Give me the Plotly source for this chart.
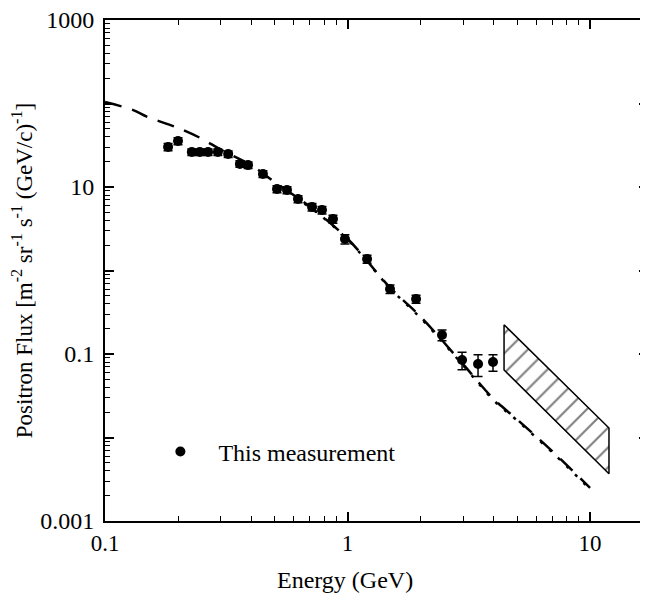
import plotly.graph_objects as go

# Measured positron flux
energy = [0.182, 0.200, 0.228, 0.246, 0.266, 0.292, 0.322, 0.360, 0.389, 0.448,
          0.512, 0.563, 0.625, 0.714, 0.785, 0.871, 0.976, 1.204, 1.497, 1.917,
          2.453, 2.967, 3.453, 3.98]
flux = [30.1, 35.5, 26.2, 26.2, 26.2, 26.2, 24.8, 18.9, 18.3, 14.3,
        9.46, 9.2, 7.18, 5.76, 5.3, 4.14, 2.38, 1.37, 0.60, 0.456,
        0.169, 0.0848, 0.0759, 0.0802]
flux_err = [3.0, 3.5, 2.3, 2.3, 2.3, 2.3, 2.2, 1.7, 1.6, 1.3,
            0.9, 0.9, 0.7, 0.6, 0.55, 0.45, 0.3, 0.15, 0.07, 0.05,
            0.025, 0.02, 0.022, 0.018]

# Model curve (long dash)
model_a_e = [0.1, 0.13, 0.15, 0.2, 0.25, 0.3, 0.4, 0.5, 0.7, 1.0, 1.5, 2.0,
             3.0, 4.0, 5.0, 7.0, 10.0]
model_a_f = [104, 84, 69, 51, 38, 28, 18.3, 11.5, 5.8, 2.4, 0.62, 0.28,
             0.075, 0.029, 0.0165, 0.0068, 0.0025]
# Second model curve (dotted)
model_b_e = [0.6, 0.7, 1.0, 1.5, 2.0, 3.0, 4.0, 5.0, 7.0, 10.0]
model_b_f = [7.4, 5.7, 2.35, 0.61, 0.27, 0.073, 0.028, 0.016, 0.0066, 0.0024]

# Hatched band (high-energy region)
band_e = [4.42, 11.97, 11.97, 4.42, 4.42]
band_f = [0.224, 0.013, 0.00368, 0.0643, 0.224]

fig = go.Figure()

fig.add_trace(go.Scatter(
    x=band_e, y=band_f, mode="lines", fill="toself",
    line=dict(color="black", width=1.5),
    fillcolor="white",
    fillpattern=dict(shape="/", fgcolor="black", bgcolor="white", size=14, solidity=0.15),
    showlegend=False, hoverinfo="skip"))

fig.add_trace(go.Scatter(
    x=model_a_e, y=model_a_f, mode="lines", line_shape="spline",
    line=dict(color="black", width=2.5, dash="17px,11px"),
    showlegend=False))

fig.add_trace(go.Scatter(
    x=model_b_e, y=model_b_f, mode="lines", line_shape="spline",
    line=dict(color="black", width=2.5, dash="3px,9px"),
    showlegend=False))

fig.add_trace(go.Scatter(
    x=energy, y=flux, mode="markers",
    marker=dict(color="black", size=10, symbol="circle"),
    error_y=dict(type="data", array=flux_err, color="black", thickness=1.5, width=4.5),
    name="&nbsp;&nbsp;&nbsp;This measurement", showlegend=True))

fam = "Liberation Serif, Times New Roman, serif"
xtickfont = dict(family=fam, size=23, color="black")
ytickfont = dict(family=fam, size=24, color="black")
xtitlefont = dict(family=fam, size=24, color="black")
ytitlefont = dict(family=fam, size=23, color="black")
legfont = dict(family=fam, size=24, color="black")

def minor_vals(lo, hi):
    vals = []
    for d in range(lo, hi):
        for m in range(2, 10):
            vals.append(m * 10.0 ** d)
    return vals

# The page has an 8px body margin, so the figure is drawn 8px in from the window edge.
fig.update_layout(
    width=640, height=592,
    margin=dict(l=97, r=0, t=12, b=79),
    paper_bgcolor="white", plot_bgcolor="white",
    font=xtickfont,
    legend=dict(x=0.102, y=0.138, xanchor="left", yanchor="middle",
                bgcolor="rgba(0,0,0,0)", font=legfont, itemwidth=30),
    xaxis=dict(type="log", range=[-1, 1.239], automargin=False,
               tickvals=[0.1, 1, 10], ticktext=["0.1", "1", "10"],
               ticks="inside", ticklen=9, tickwidth=1.5, tickcolor="black",
               showline=True, linewidth=2, linecolor="black", mirror="ticks",
               showgrid=False, zeroline=False, ticklabeloverflow="allow",
               minor=dict(tickvals=minor_vals(-1, 2), ticks="inside", ticklen=5,
                          tickwidth=1.2, tickcolor="black", showgrid=False),
               tickfont=xtickfont),
    yaxis=dict(type="log", range=[-3, 3], automargin=False,
               tickvals=[0.001, 0.01, 0.1, 1, 10, 100, 1000],
               ticktext=["0.001", "", "0.1", "", "10", "", "1000"],
               ticks="inside", ticklen=9, tickwidth=1.5, tickcolor="black",
               showline=True, linewidth=2, linecolor="black", mirror="ticks",
               showgrid=False, zeroline=False, ticklabeloverflow="allow",
               ticklabelstandoff=4,
               minor=dict(tickvals=minor_vals(-3, 3), ticks="inside", ticklen=5,
                          tickwidth=1.2, tickcolor="black", showgrid=False),
               title=dict(text="Positron Flux [m<sup>-2</sup> sr<sup>-1</sup> s<sup>-1</sup> (GeV/c)<sup>-1</sup>]",
                          font=ytitlefont, standoff=8),
               tickfont=ytickfont),
    annotations=[dict(text="Energy (GeV)", xref="paper", yref="paper",
                      x=0.442, y=-0.118, xanchor="center", yanchor="middle",
                      showarrow=False, font=xtitlefont)],
)

fig.write_html("out.html")
